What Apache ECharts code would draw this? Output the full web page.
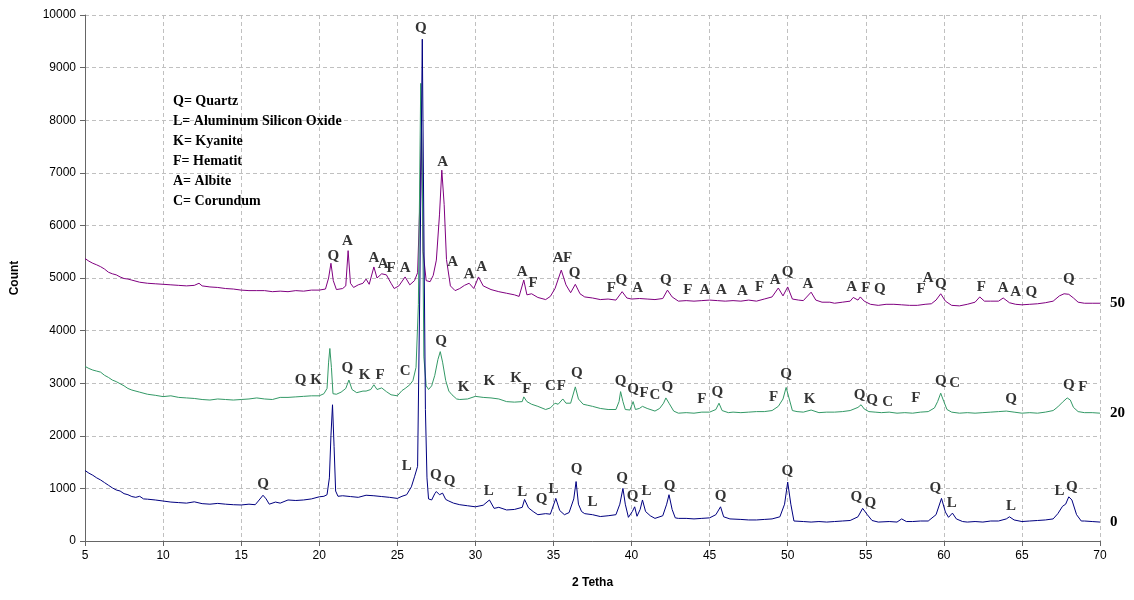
<!DOCTYPE html>
<html><head><meta charset="utf-8">
<script src="https://cdn.jsdelivr.net/npm/echarts@6/dist/echarts.min.js"></script>
<style>html,body{margin:0;padding:0;background:#fff}#c{width:1134px;height:600px}</style>
</head><body><div id="c"></div>
<script>
// 2-theta / count pairs
const sample0 = [[5,1340],[5.25,1290],[5.5,1250],[5.75,1200],[6,1160],[6.25,1110],[6.5,1060],[6.75,1010],[7,970],[7.25,950],[7.5,900],[7.75,880],[8,845],[8.25,830],[8.5,850],[8.75,800],[9,795],[9.5,780],[10,760],[10.5,740],[11,730],[11.5,720],[12,745],[12.5,710],[13,700],[13.5,715],[14,700],[14.5,690],[15,685],[15.5,700],[15.9,690],[16.1,760],[16.4,870],[16.6,800],[16.8,700],[17.2,740],[17.5,720],[18,780],[18.5,770],[19,780],[19.5,800],[20,840],[20.3,850],[20.5,880],[20.65,1200],[20.75,2000],[20.85,2590],[20.95,1800],[21.05,950],[21.2,850],[21.5,860],[22,845],[22.5,830],[23,870],[23.5,860],[24,845],[24.5,830],[25,810],[25.3,850],[25.6,880],[25.9,1030],[26.1,1220],[26.3,1420],[26.45,5000],[26.6,9540],[26.7,6000],[26.8,2500],[26.9,1200],[27,800],[27.2,780],[27.4,900],[27.5,940],[27.7,880],[27.9,910],[28.1,790],[28.3,760],[28.6,720],[29,690],[29.5,670],[30,650],[30.5,680],[30.9,780],[31.2,620],[31.5,640],[32,590],[32.5,600],[33,640],[33.15,790],[33.4,630],[33.7,560],[34,500],[34.5,520],[34.8,510],[35.15,810],[35.4,580],[35.7,500],[36,540],[36.3,800],[36.45,1130],[36.6,700],[36.8,560],[37,520],[37.5,500],[38,465],[38.5,480],[39,500],[39.25,700],[39.45,1000],[39.6,700],[39.8,450],[40.05,560],[40.2,650],[40.35,470],[40.55,600],[40.7,780],[40.9,560],[41.2,480],[41.5,430],[42,480],[42.25,700],[42.4,880],[42.6,600],[42.8,440],[43,430],[43.5,430],[44,420],[44.5,430],[45,440],[45.4,500],[45.7,650],[45.9,460],[46.3,420],[47,410],[47.5,400],[48,400],[48.5,410],[49,420],[49.5,460],[49.8,700],[50,1120],[50.2,700],[50.4,380],[51,370],[51.5,360],[52,370],[52.5,360],[53,370],[53.5,380],[54,390],[54.5,460],[54.8,620],[55.1,500],[55.4,390],[55.8,360],[56.5,370],[57,360],[57.3,420],[57.6,370],[58,370],[58.5,380],[59,380],[59.5,500],[59.85,810],[60.1,550],[60.3,450],[60.55,530],[60.8,420],[61.2,370],[61.5,360],[62,370],[62.5,360],[63,380],[63.5,380],[64,420],[64.2,460],[64.5,400],[65,370],[65.5,380],[66,390],[66.5,400],[67,420],[67.3,520],[67.6,660],[67.8,700],[68,840],[68.2,780],[68.5,500],[68.8,380],[69,380],[69.5,370],[70,360]];

const sample20 = [[5,3320],[5.25,3280],[5.5,3250],[5.75,3230],[6,3210],[6.25,3150],[6.5,3110],[6.75,3060],[7,3030],[7.25,2990],[7.5,2950],[7.75,2900],[8,2870],[8.5,2830],[9,2790],[9.5,2770],[10,2745],[10.5,2760],[11,2730],[11.5,2720],[12,2710],[12.5,2690],[13,2680],[13.5,2700],[14,2690],[14.5,2680],[15,2690],[15.5,2700],[16,2720],[16.5,2700],[17,2690],[17.5,2730],[18,2730],[18.5,2740],[19,2750],[19.5,2760],[20,2760],[20.3,2800],[20.5,2900],[20.6,3400],[20.68,3660],[20.78,3300],[20.88,2800],[21.1,2790],[21.4,2830],[21.7,2900],[21.9,3060],[22.1,2880],[22.4,2820],[22.8,2850],[23,2850],[23.3,2880],[23.5,2970],[23.7,2880],[24,2910],[24.3,2840],[24.6,2780],[25,2760],[25.3,2860],[25.5,2900],[25.8,2970],[26,3050],[26.2,3300],[26.35,4500],[26.5,8700],[26.6,7000],[26.7,3500],[26.85,2950],[27,2880],[27.2,2950],[27.4,3150],[27.6,3450],[27.75,3600],[27.9,3400],[28.1,3050],[28.3,2850],[28.5,2780],[28.8,2700],[29,2690],[29.5,2700],[30,2750],[30.5,2730],[31,2720],[31.5,2700],[32,2650],[32.5,2640],[33,2650],[33.1,2740],[33.3,2650],[33.6,2600],[34,2560],[34.5,2500],[34.8,2530],[35.1,2620],[35.3,2600],[35.6,2700],[35.8,2620],[36.1,2620],[36.4,2930],[36.6,2700],[36.9,2600],[37.2,2580],[37.5,2560],[38,2520],[38.5,2500],[39,2500],[39.2,2650],[39.3,2840],[39.45,2650],[39.6,2500],[39.9,2490],[40.1,2650],[40.25,2500],[40.5,2520],[40.7,2560],[41,2520],[41.5,2470],[41.8,2520],[42.05,2620],[42.2,2720],[42.4,2620],[42.7,2470],[43,2430],[43.5,2440],[44,2430],[44.5,2450],[45,2450],[45.4,2500],[45.6,2620],[45.8,2480],[46.2,2440],[46.5,2450],[47,2440],[47.5,2450],[48,2460],[48.5,2460],[49,2480],[49.4,2560],[49.7,2700],[49.9,2920],[50.1,2700],[50.3,2480],[50.6,2460],[51,2450],[51.5,2490],[52,2440],[52.5,2450],[53,2450],[53.5,2460],[54,2480],[54.5,2540],[54.7,2590],[54.9,2510],[55.2,2460],[55.6,2450],[56,2440],[56.5,2450],[57,2430],[57.5,2440],[58,2430],[58.5,2450],[59,2460],[59.4,2530],[59.6,2650],[59.8,2810],[60,2650],[60.2,2500],[60.5,2450],[61,2430],[61.5,2440],[62,2430],[62.5,2440],[63,2450],[63.5,2460],[64,2470],[64.5,2450],[65,2430],[65.5,2440],[66,2430],[66.5,2450],[67,2480],[67.3,2550],[67.6,2640],[67.9,2720],[68.1,2680],[68.3,2540],[68.6,2460],[69,2440],[69.5,2440],[70,2430]];

const sample50 = [[5,5370],[5.25,5320],[5.5,5280],[5.75,5250],[6,5215],[6.25,5170],[6.5,5110],[6.75,5080],[7,5060],[7.25,5020],[7.5,4990],[7.75,4980],[8,4960],[8.5,4920],[9,4900],[9.5,4890],[10,4880],[10.5,4870],[11,4860],[11.5,4850],[12,4860],[12.3,4900],[12.5,4850],[13,4830],[13.5,4820],[14,4800],[14.5,4790],[15,4770],[15.5,4760],[16,4760],[16.5,4760],[17,4740],[17.5,4750],[18,4740],[18.5,4760],[19,4750],[19.5,4770],[20,4770],[20.4,4790],[20.6,5000],[20.75,5280],[20.9,4950],[21.1,4780],[21.5,4800],[21.7,4850],[21.85,5520],[22,4900],[22.2,4820],[22.5,4870],[22.8,4900],[23,4980],[23.2,4880],[23.5,5210],[23.7,5000],[24,5080],[24.3,5060],[24.6,4900],[24.8,4800],[25.1,4850],[25.5,5020],[25.8,4870],[26.1,4950],[26.3,5100],[26.45,6500],[26.55,7800],[26.65,5500],[26.85,4950],[27.1,4930],[27.3,5050],[27.5,5340],[27.7,6200],[27.85,7050],[28,6400],[28.15,5350],[28.4,4850],[28.7,4760],[29,4800],[29.3,4860],[29.6,4900],[29.9,4800],[30.2,5020],[30.5,4850],[31,4780],[31.5,4740],[32,4710],[32.5,4680],[32.8,4650],[33.1,4960],[33.3,4680],[33.6,4700],[34,4630],[34.5,4590],[34.8,4650],[35.1,4800],[35.5,5150],[35.8,4870],[36.1,4720],[36.4,4880],[36.7,4700],[37,4640],[37.5,4620],[38,4590],[38.5,4600],[39,4580],[39.4,4740],[39.7,4620],[40,4600],[40.5,4610],[41,4600],[41.5,4590],[42,4610],[42.3,4770],[42.6,4640],[43,4560],[43.5,4570],[44,4560],[44.5,4570],[45,4580],[45.5,4570],[46,4560],[46.5,4570],[47,4560],[47.5,4580],[48,4560],[48.5,4600],[49,4640],[49.4,4810],[49.7,4660],[50,4830],[50.3,4600],[50.7,4580],[51,4570],[51.5,4730],[51.8,4580],[52.2,4540],[52.7,4540],[53,4520],[53.5,4540],[54,4560],[54.2,4630],[54.5,4580],[54.65,4640],[54.9,4560],[55.3,4500],[55.8,4480],[56.3,4500],[56.8,4500],[57.3,4490],[57.8,4480],[58.3,4480],[58.8,4500],[59.2,4510],[59.5,4580],[59.8,4700],[60.1,4560],[60.5,4480],[61,4470],[61.5,4500],[62,4540],[62.3,4640],[62.6,4560],[63,4560],[63.5,4560],[63.8,4620],[64.2,4530],[64.6,4500],[65,4490],[65.5,4500],[66,4510],[66.5,4530],[67,4560],[67.4,4660],[67.7,4700],[68,4690],[68.3,4620],[68.6,4540],[69,4520],[69.5,4520],[70,4520]];

// phase labels: [2theta, count, letter]
const labels0 = [[16.4,1084,'Q'],[25.6,1426,'L'],[27.46,1256,'Q'],[28.35,1140,'Q'],[30.85,950,'L'],[33.0,930,'L'],[34.24,800,'Q'],[35.0,990,'L'],[36.48,1370,'Q'],[37.5,740,'L'],[39.4,1200,'Q'],[40.06,855,'Q'],[40.96,950,'L'],[42.43,1045,'Q'],[45.7,855,'Q'],[49.98,1330,'Q'],[54.4,836,'Q'],[55.3,722,'Q'],[59.45,1000,'Q'],[60.5,722,'L'],[64.3,665,'L'],[67.4,950,'L'],[68.2,1030,'Q']];
const labels20 = [[18.8,3060,'Q'],[19.8,3060,'K'],[21.8,3290,'Q'],[22.9,3150,'K'],[23.9,3150,'F'],[25.5,3230,'C'],[27.8,3800,'Q'],[29.25,2927,'K'],[30.9,3041,'K'],[32.6,3098,'K'],[33.3,2889,'F'],[34.8,2946,'C'],[35.5,2946,'F'],[36.5,3193,'Q'],[39.3,3041,'Q'],[40.1,2889,'Q'],[40.8,2813,'F'],[41.5,2775,'C'],[42.3,2927,'Q'],[44.5,2699,'F'],[45.5,2832,'Q'],[49.1,2737,'F'],[49.9,3174,'Q'],[51.4,2699,'K'],[54.6,2775,'Q'],[55.4,2680,'Q'],[56.4,2642,'C'],[58.2,2718,'F'],[59.8,3041,'Q'],[60.7,3003,'C'],[64.3,2699,'Q'],[68.0,2965,'Q'],[68.9,2927,'F']];
const labels50 = [[20.9,5418,'Q'],[21.8,5703,'A'],[23.5,5380,'A'],[24.1,5266,'A'],[24.6,5190,'F'],[25.5,5190,'A'],[26.5,9753,'Q'],[27.9,7205,'A'],[28.55,5304,'A'],[29.6,5076,'A'],[30.4,5209,'A'],[33.0,5114,'A'],[33.7,4905,'F'],[35.3,5380,'A'],[35.9,5380,'F'],[36.35,5095,'Q'],[38.7,4810,'F'],[39.35,4962,'Q'],[40.4,4810,'A'],[42.2,4962,'Q'],[43.6,4772,'F'],[44.7,4772,'A'],[45.75,4772,'A'],[47.1,4753,'A'],[48.2,4829,'F'],[49.2,4962,'A'],[50.0,5114,'Q'],[51.3,4886,'A'],[54.1,4829,'A'],[55.0,4810,'F'],[55.9,4791,'Q'],[58.55,4791,'F'],[59.0,5000,'A'],[59.8,4886,'Q'],[62.4,4829,'F'],[63.8,4810,'A'],[64.6,4734,'A'],[65.6,4734,'Q'],[68.0,4981,'Q']];

const seriesNames = ['0','20','50'];
const seriesColors = ['#000080','#339966','#800080'];
const phaseLegend = ['Q= Quartz','L= Aluminum Silicon Oxide','K= Kyanite','F= Hematit','A= Albite','C= Corundum'];
const xTicks = {min:5, max:70, step:5};
const yTicks = {min:0, max:10000, step:1000};

const chart = echarts.init(document.getElementById('c'), null, {renderer:'canvas'});
const serif = 'Liberation Serif';
const sans = 'Liberation Sans';

function lineSeries(name, data, color){
  return {type:'line', name, data, showSymbol:false, symbol:'none', animation:false, z:3,
    lineStyle:{color, width:1}, itemStyle:{color},
    endLabel:{show:true, formatter:name, distance:10, color:'#000', fontFamily:serif, fontWeight:'bold', fontSize:15}};
}
function labelSeries(arr){
  return {type:'scatter', data:arr.map(a=>[a[0],a[1],a[2]]), symbolSize:1, animation:false, z:5, silent:true,
    itemStyle:{color:'rgba(0,0,0,0)'},
    label:{show:true, position:'inside', formatter:p=>p.data[2], color:'#000', fontFamily:serif, fontWeight:'bold', fontSize:15}};
}

chart.setOption({
  backgroundColor:'#fff',
  animation:false,
  grid:{left:85, right:34, top:15, bottom:59},
  xAxis:{type:'value', min:xTicks.min, max:xTicks.max, interval:xTicks.step,
    name:'2 Tetha', nameLocation:'middle', nameGap:36,
    nameTextStyle:{fontFamily:sans, fontWeight:'bold', fontSize:12, color:'#000'},
    axisLine:{lineStyle:{color:'#666', width:1}}, axisTick:{show:true, length:5, lineStyle:{color:'#666'}},
    axisLabel:{fontFamily:sans, fontSize:12, color:'#000', margin:9, formatter:v=>String(v)},
    splitLine:{show:true, lineStyle:{color:'#c0c0c0', type:[4,3]}}},
  yAxis:{type:'value', min:yTicks.min, max:yTicks.max, interval:yTicks.step,
    name:'Count', nameLocation:'middle', nameGap:64, nameRotate:90,
    nameTextStyle:{fontFamily:sans, fontWeight:'bold', fontSize:12, color:'#000'},
    axisLine:{show:true, lineStyle:{color:'#666', width:1}}, axisTick:{show:true, length:5, lineStyle:{color:'#666'}},
    axisLabel:{fontFamily:sans, fontSize:12, color:'#000', margin:9, formatter:v=>String(v)},
    splitLine:{show:true, lineStyle:{color:'#c0c0c0', type:[4,3]}}},
  graphic: phaseLegend.map((t,i)=>({type:'text', left:173, top:94+i*20, z:10,
    style:{text:t, fontFamily:serif, fontWeight:'bold', fontSize:14, fill:'#000'}})),
  series:[
    lineSeries(seriesNames[2], sample50, seriesColors[2]),
    lineSeries(seriesNames[1], sample20, seriesColors[1]),
    lineSeries(seriesNames[0], sample0, seriesColors[0]),
    labelSeries(labels0), labelSeries(labels20), labelSeries(labels50)
  ]
});
</script></body></html>
